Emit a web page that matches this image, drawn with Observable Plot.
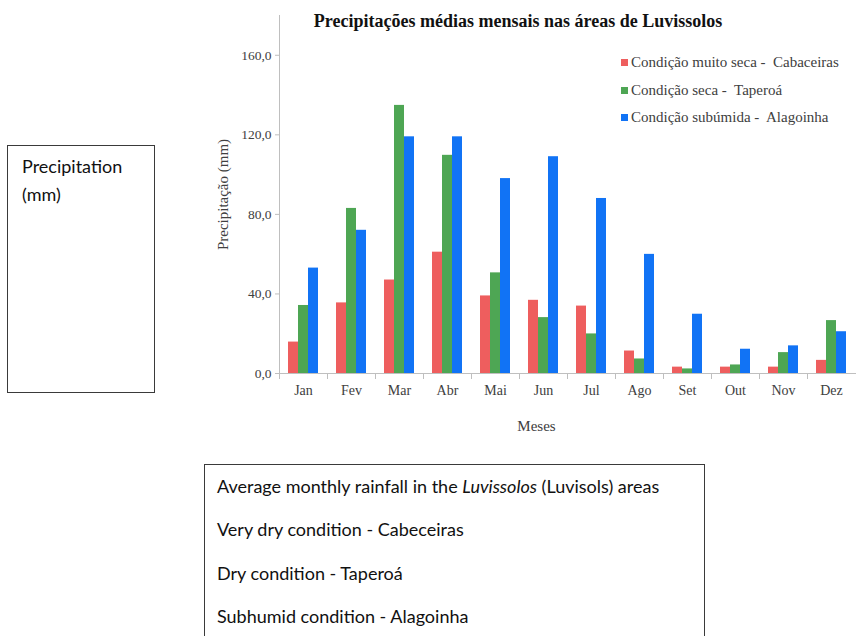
<!DOCTYPE html>
<html><head><meta charset="utf-8">
<script src="https://cdn.jsdelivr.net/npm/d3@7"></script>
<script src="https://cdn.jsdelivr.net/npm/@observablehq/plot@0.6"></script>
<style>
body{margin:0;background:#fff;width:857px;height:636px;position:relative;overflow:hidden;font-family:"Liberation Serif",serif;}
#leftbox{position:absolute;left:7px;top:145px;border:1px solid #3a3a3a;font-family:Lato,"Noto Sans",sans-serif;font-size:18px;line-height:28px;padding:6px 0 0 14px;box-sizing:border-box;width:148px;height:248px;color:#111;}
#title{position:absolute;left:200px;width:636px;top:11px;text-align:center;font-weight:bold;font-size:18px;color:#111;}
#chart{position:absolute;left:200px;top:0;}
#legend{position:absolute;left:621px;top:49px;font-size:15px;color:#404040;}
#legend .it{height:27.5px;display:flex;align-items:center;white-space:pre;}
#legend .sw{width:7px;height:7px;margin-right:3px;}
#bottombox{position:absolute;left:204px;top:465px;width:501px;height:200px;border:1px solid #3a3a3a;box-sizing:border-box;font-family:Lato,"Noto Sans",sans-serif;font-size:18px;line-height:43.3px;padding:0 0 0 12px;color:#111;margin-top:-1px;}
</style></head><body>
<div id="leftbox">Precipitation<br>(mm)</div>
<div id="chart"></div>
<div id="title">Precipitações médias mensais nas áreas de Luvissolos</div>
<div id="legend"></div>
<div id="bottombox">Average monthly rainfall in the <i>Luvissolos</i> (Luvisols) areas<br>Very dry condition - Cabeceiras<br>Dry condition - Taperoá<br>Subhumid condition - Alagoinha</div>
<script>
const months = ["Jan","Fev","Mar","Abr","Mai","Jun","Jul","Ago","Set","Out","Nov","Dez"];
const series = ["Condição muito seca -  Cabaceiras","Condição seca -  Taperoá","Condição subúmida -  Alagoinha"];
const muitoSeca = [15.8,35.5,47,61,39,36.8,33.9,11.3,3.2,3.2,3.2,6.6];
const seca = [34.2,83,134.8,109.7,50.6,28.1,19.9,7.3,2.3,4.3,10.5,26.6];
const subumida = [53,72,119,119,98,109,88,59.9,29.8,12.2,13.9,21];
const yTicks = [0,40,80,120,160];
const colors = ["#ee5e5e","#4ea654","#1173f5"];

const values = [muitoSeca, seca, subumida];
const data = [];
months.forEach((m,i)=>series.forEach((s,j)=>data.push({month:m, series:s, value:values[j][i]})));

const axisColor = "#bfbfbf";
const chart = Plot.plot({
  width: 657, height: 445,
  marginLeft: 76, marginRight: 0, marginTop: 15, marginBottom: 72,
  style: {fontFamily: "Liberation Serif", fontSize: "13px", color: "#404040", background: "transparent"},
  fx: {domain: months, padding: 0},
  x: {domain: series, paddingInner: 0, paddingOuter: 0.7, axis: null},
  y: {domain: [0,180]},
  color: {domain: series, range: colors},
  marks: [
    Plot.barY(data, {fx: "month", x: "series", y: "value", fill: "series"}),
    Plot.frame({anchor: "left", facet: "super", stroke: axisColor}),
    Plot.frame({anchor: "bottom", facet: "super", stroke: axisColor}),
    Plot.frame({anchor: "left", stroke: axisColor, insetTop: 358, insetBottom: -5}),
    Plot.axisY({ticks: yTicks, tickFormat: d => d.toFixed(1).replace(".", ","), tickSize: 4, tickPadding: 4, stroke: axisColor, fontSize: 13.5,
      label: "Precipitação (mm)", labelAnchor: "center", labelArrow: "none", labelOffset: 62}),
    Plot.axisFx({anchor: "bottom", tickSize: 0, tickPadding: 12, fontSize: 14, label: null}),
    Plot.text(["Meses"], {facet: "super", frameAnchor: "bottom", dx: -31, dy: 57, fontSize: 15, fill: "#404040"})
  ]
});
chart.querySelectorAll("[aria-label='y-axis label'] text").forEach(t => t.setAttribute("font-size", "15px"));
document.getElementById("chart").appendChild(chart);

const legend = document.getElementById("legend");
series.forEach((s,i)=>{
  const it = document.createElement("div"); it.className = "it";
  const sw = document.createElement("span"); sw.className = "sw"; sw.style.background = colors[i];
  it.appendChild(sw); it.appendChild(document.createTextNode(s));
  legend.appendChild(it);
});
</script>
</body></html>
